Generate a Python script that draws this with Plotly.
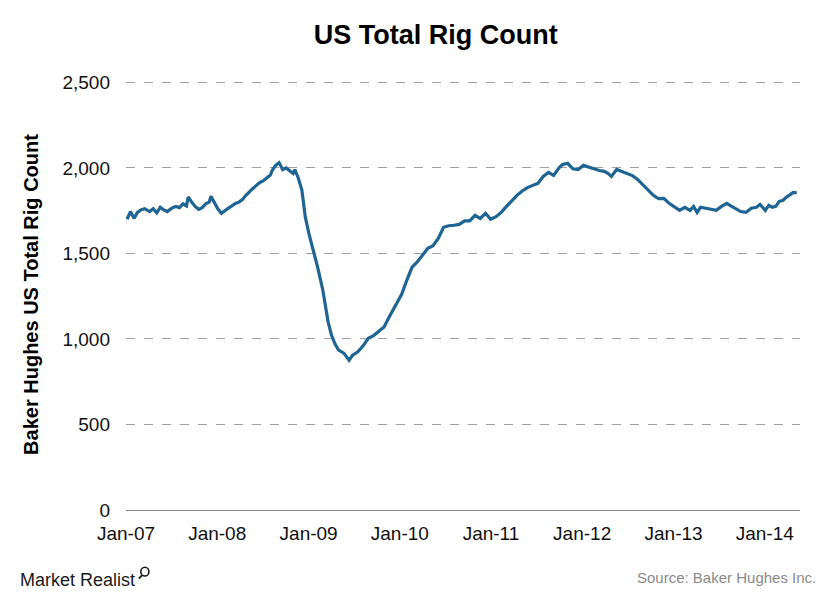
import plotly.graph_objects as go

dates = [
    "2007-01-05", "2007-01-19", "2007-02-02", "2007-02-16", "2007-03-02", "2007-03-16",
    "2007-04-06", "2007-04-20", "2007-05-04", "2007-05-18", "2007-06-01", "2007-06-15",
    "2007-07-06", "2007-07-20", "2007-08-03", "2007-08-17", "2007-08-31", "2007-09-07",
    "2007-09-21", "2007-10-05", "2007-10-19", "2007-11-02", "2007-11-16", "2007-11-30",
    "2007-12-07", "2007-12-21", "2008-01-04", "2008-01-18", "2008-02-01", "2008-02-15",
    "2008-02-29", "2008-03-14", "2008-03-28", "2008-04-11", "2008-04-25", "2008-05-09",
    "2008-05-23", "2008-06-06", "2008-06-20", "2008-07-04", "2008-07-18", "2008-08-01",
    "2008-08-08", "2008-08-22", "2008-09-05", "2008-09-19", "2008-10-03", "2008-10-17",
    "2008-10-31", "2008-11-07", "2008-11-21", "2008-12-05", "2008-12-19", "2009-01-02",
    "2009-01-16", "2009-02-06", "2009-02-27", "2009-03-20", "2009-04-03", "2009-04-17",
    "2009-05-01", "2009-05-22", "2009-06-12", "2009-06-26", "2009-07-17", "2009-08-07",
    "2009-08-28", "2009-09-18", "2009-10-09", "2009-10-30", "2009-11-20", "2009-12-11",
    "2010-01-08", "2010-01-29", "2010-02-19", "2010-03-12", "2010-04-02", "2010-04-23",
    "2010-05-14", "2010-06-04", "2010-06-25", "2010-07-16", "2010-08-06", "2010-08-27",
    "2010-09-17", "2010-10-08", "2010-10-29", "2010-11-19", "2010-12-10", "2010-12-31",
    "2011-01-21", "2011-02-11", "2011-03-04", "2011-03-25", "2011-04-15", "2011-05-06",
    "2011-05-27", "2011-06-17", "2011-07-08", "2011-07-29", "2011-08-19", "2011-09-09",
    "2011-09-30", "2011-10-14", "2011-11-04", "2011-11-25", "2011-12-16", "2012-01-06",
    "2012-01-27", "2012-02-17", "2012-03-09", "2012-03-30", "2012-04-13", "2012-04-27",
    "2012-05-18", "2012-06-08", "2012-06-29", "2012-07-20", "2012-08-10", "2012-08-31",
    "2012-09-21", "2012-10-12", "2012-11-02", "2012-11-23", "2012-12-14", "2013-01-04",
    "2013-01-25", "2013-02-15", "2013-03-08", "2013-03-22", "2013-04-05", "2013-04-19",
    "2013-05-10", "2013-05-31", "2013-06-21", "2013-07-12", "2013-08-02", "2013-08-16",
    "2013-09-06", "2013-09-27", "2013-10-18", "2013-11-08", "2013-11-29", "2013-12-13",
    "2014-01-03", "2014-01-17", "2014-01-31", "2014-02-14", "2014-02-28", "2014-03-14",
    "2014-03-28", "2014-04-11", "2014-04-25", "2014-05-09",
]
rig_count = [
    1700, 1745, 1705, 1740, 1755, 1762,
    1745, 1762, 1738, 1770, 1755, 1745,
    1768, 1775, 1768, 1790, 1778, 1830,
    1800, 1775, 1758, 1768, 1790, 1800,
    1834, 1798, 1760, 1735, 1752, 1765,
    1778, 1792, 1800, 1815, 1840, 1862,
    1880, 1898, 1915, 1925, 1940, 1958,
    1985, 2015, 2031, 1990, 2000, 1985,
    1968, 1990, 1940, 1870, 1711, 1617,
    1540, 1420, 1285, 1100, 1020, 970,
    935, 917, 876, 905, 925, 960,
    1004, 1020, 1045, 1070, 1130, 1186,
    1260, 1343, 1420, 1450, 1489, 1530,
    1545, 1588, 1653, 1662, 1665, 1670,
    1690, 1690, 1723, 1705, 1735, 1700,
    1715, 1740, 1775, 1810, 1840, 1865,
    1885, 1898, 1910, 1950, 1974, 1956,
    2000, 2020, 2027, 1995, 1991, 2015,
    2003, 1995, 1985, 1980, 1968, 1950,
    1991, 1980, 1968, 1955, 1933, 1900,
    1869, 1840, 1820, 1822, 1793, 1770,
    1752, 1770, 1752, 1775, 1740, 1770,
    1765, 1760, 1752, 1775, 1793, 1780,
    1764, 1745, 1740, 1764, 1770, 1787,
    1752, 1781, 1770, 1775, 1805, 1810,
    1828, 1840, 1857, 1855,
]

tick_dates = ["2007-01-01", "2008-01-01", "2009-01-01", "2010-01-01",
              "2011-01-01", "2012-01-01", "2013-01-01", "2014-01-01"]
tick_labels = ["Jan-07", "Jan-08", "Jan-09", "Jan-10", "Jan-11", "Jan-12", "Jan-13", "Jan-14"]
y_ticks = [0, 500, 1000, 1500, 2000, 2500]

FONT = "Liberation Sans, Arial, sans-serif"
NARROW = "Liberation Sans Narrow, Liberation Sans, Arial"

fig = go.Figure()
fig.add_trace(go.Scatter(
    x=dates, y=rig_count, mode="lines",
    line=dict(color="#1f6593", width=3.2),
    hoverinfo="x+y", showlegend=False,
))

fig.update_layout(
    width=832, height=592,
    margin=dict(l=118, r=40, t=71, b=90),
    paper_bgcolor="white", plot_bgcolor="white",
    font=dict(family=FONT, color="#111111"),
    title=dict(text="<b>US Total Rig Count</b>", x=0.514, xanchor="center",
               y=1 - 27 / 592, yref="container", yanchor="middle",
               font=dict(size=27, family=FONT, color="#000000")),
    xaxis=dict(
        type="date", range=["2007-01-01", "2014-05-22"],
        tickvals=tick_dates, ticktext=tick_labels,
        showgrid=False, zeroline=False,
        showline=True, linecolor="#888888", linewidth=1,
        ticks="", tickfont=dict(size=19, family=FONT, color="#111111"),
        ticklabelstandoff=6,
    ),
    yaxis=dict(
        range=[0, 2520], tickvals=y_ticks, tickformat=",d",
        showgrid=True, gridcolor="#a0a0a0", griddash="dash", gridwidth=1,
        zeroline=False, showline=False, ticks="",
        tickfont=dict(size=19, family=FONT, color="#111111"),
        ticklabelstandoff=15,
        title=dict(text="<b>Baker Hughes US Total Rig Count</b>",
                   font=dict(size=20, family=FONT, color="#000000"), standoff=18),
    ),
)

fig.add_annotation(
    text="Market Realist", xref="paper", yref="paper",
    x=-0.160, y=-0.163, xanchor="left", yanchor="middle", showarrow=False,
    font=dict(size=18, family=NARROW, color="#1a1a1a"),
)
# small magnifier icon of the logo
fig.add_shape(type="circle", xref="paper", yref="paper",
              x0=0.022, x1=0.034, y0=-0.153, y1=-0.133,
              line=dict(color="#1a1a1a", width=1.6))
fig.add_shape(type="line", xref="paper", yref="paper",
              x0=0.024, y0=-0.151, x1=0.019, y1=-0.159,
              line=dict(color="#1a1a1a", width=1.8))

fig.add_annotation(
    text="Source: Baker Hughes Inc.", xref="paper", yref="paper",
    x=1.027, y=-0.156, xanchor="right", yanchor="middle", showarrow=False,
    font=dict(size=15, family=NARROW, color="#8a8a8a"),
)

fig.write_html("out.html")
